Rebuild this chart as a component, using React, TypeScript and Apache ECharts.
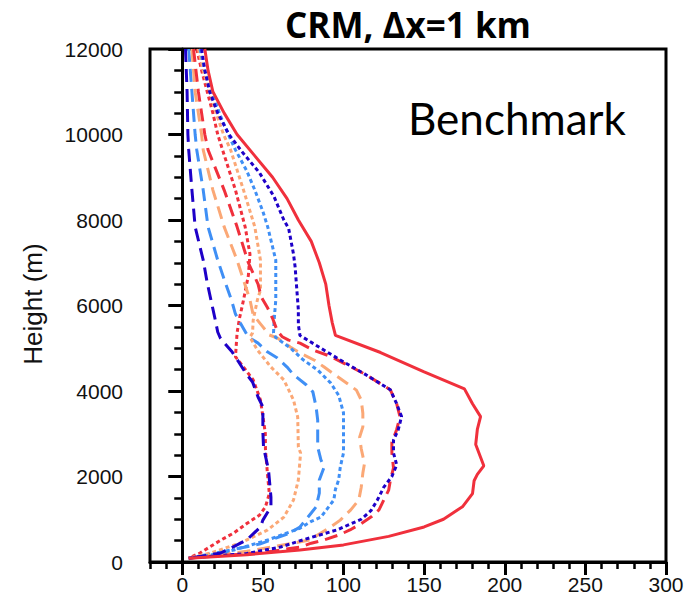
import React, { useEffect, useRef } from "react";
import * as echarts from "echarts";

// Profiles: [x value, height (m)]
const redSolid = [[14,12000],[16,11500],[19,11000],[26,10500],[34,10000],[45,9500],[56,9000],[65,8500],[72,8000],[80,7500],[85,7000],[89,6500],[91,6000],[93,5600],[95,5300],[123,4900],[150,4450],[175,4050],[180,3700],[185,3400],[183,3100],[182,2750],[185,2450],[187,2250],[183,2050],[181,1900],[180,1600],[174,1300],[162,1000],[150,820],[128,600],[100,400],[73,280],[40,170],[4,90]];
const blueDotted = [[12,12000],[14,11500],[17,11000],[22,10500],[29,10000],[37,9600],[48,9100],[57,8540],[63,8000],[66,7800],[69,7200],[70,6900],[71,6400],[72,5900],[72,5550],[73,5300],[96,4770],[113,4400],[129,4030],[133,3700],[136,3400],[134,3100],[131,2850],[131,2550],[133,2270],[130,2000],[125,1750],[121,1450],[117,1200],[111,1000],[96,750],[75,520],[61,350],[40,200],[4,90]];
const redDashed = [[7,12000],[10,11000],[14,10000],[16,9640],[26,8700],[34,7840],[41,7000],[44,6750],[47,6500],[49,6200],[53,5940],[56,5700],[59,5400],[62,5270],[66,5190],[73,5120],[81,4960],[92,4810],[113,4400],[129,4030],[133,3700],[135,3400],[133,3100],[130,2800],[130,2550],[131,2200],[129,1900],[128,1680],[125,1450],[122,1220],[117,1050],[111,900],[104,750],[97,630],[88,515],[80,440],[73,350],[50,220],[4,90]];
const orangeDashed = [[6,12000],[8,11000],[12,10000],[13,9640],[19,8700],[26,7840],[34,7060],[42,6130],[44,5780],[50,5500],[54,5310],[59,5240],[67,5030],[73,4890],[82,4720],[88,4560],[95,4370],[101,4210],[108,4020],[111,3790],[112,3480],[112,3160],[110,2920],[111,2650],[113,2300],[112,2080],[111,1750],[109.5,1450],[104.5,1220],[98,980],[92,820],[86,680],[79,515],[69,440],[40,250],[4,90]];
const lightBlueDotted = [[11,12000],[14,11500],[18.6,11000],[23,10500],[28.6,10000],[33,9640],[40,9150],[45,8700],[50,8200],[53,7840],[58,7060],[58,6530],[58,6130],[57,5660],[56.6,5360],[58,5250],[67,5010],[75,4730],[84,4490],[92,4190],[97,3900],[100,3490],[100,3000],[100,2550],[98,2220],[97,1920],[95,1700],[94,1450],[86,1050],[80,950],[73,790],[53,515],[32,281],[11,110],[4,90]];
const lightBlueDashed = [[4,12000],[6,11000],[8,10000],[9,9640],[13,8700],[16,7840],[22,7060],[27,6500],[30.5,6130],[33,5800],[36,5590],[41,5260],[47,5120],[53,4910],[59,4770],[65,4560],[69,4380],[77,4140],[81,3980],[83,3630],[84,3320],[84,3000],[84,2690],[86,2390],[88,2220],[85,1920],[85,1610],[83,1290],[80,1146],[73,820],[67,680],[48,420],[24,234],[4,90]];
const orangeDotted = [[10,12000],[13,11500],[17,11000],[21,10500],[25.6,10000],[30,9640],[38,8700],[45,7840],[48.5,7060],[48.5,6360],[46.6,6130],[44,5660],[43.6,5360],[42,5260],[46.6,4960],[55,4560],[63,4260],[69,3790],[71.6,3390],[72,2690],[73.4,2550],[72,1920],[69,1450],[63,1050],[53,750],[36,444],[17.5,210],[4,90]];
const redDotted = [[9,12000],[12,11500],[15.5,11000],[19,10500],[22,10000],[25,9640],[33,8700],[39,7840],[42,7200],[41,6700],[38,6130],[35.5,5700],[34,5360],[33,4800],[38,4560],[44,4260],[48.5,3790],[51.5,3020],[51.6,2620],[53,2000],[54,1600],[51.6,1290],[48,1100],[40,900],[32,680],[24,515],[11,210],[4,90]];
const blueDashed = [[2,12000],[3,11000],[3.5,10000],[4,9640],[6,8700],[8,7840],[13,7060],[15.5,6530],[18.7,5970],[20.5,5660],[22,5380],[23.6,5240],[25.5,5150],[31,4910],[35,4680],[39,4440],[43.6,4210],[47,3860],[50,3630],[50,3370],[50,3040],[50.4,2690],[53.5,2150],[55,1520],[55,1290],[50,980],[48.5,820],[40,515],[24,210],[4,90]];

const xMajorTicks = [0, 50, 100, 150, 200, 250, 300];
const xTitle = "CRM, Δx=1 km";
const yName = "Height (m)";
const annotation = "Benchmark";

const RED = "#f0303c";
const BLUE = "#1e00c8";
const LBLUE = "#3f8ff5";
const ORANGE = "#fba876";
const DASH = [13, 7];
const DOT = [4, 3];

export default function App() {
  const ref = useRef<HTMLDivElement>(null);
  useEffect(() => {
    if (!ref.current) return;
    const chart = echarts.init(ref.current, null, { renderer: "svg" });
    const mk = (data: number[][], color: string, type: any, z: number) => ({
      type: "line",
      data,
      showSymbol: false,
      symbol: "none",
      z,
      lineStyle: { color, width: 3, type, cap: "butt" },
    });
    const labelFont = { fontFamily: "Liberation Sans", fontSize: 21, color: "#111" };
    chart.setOption({
      animation: false,
      grid: { left: 150, right: 21, top: 49, bottom: 51, show: true, borderColor: "#000", borderWidth: 3, backgroundColor: "transparent" },
      xAxis: [
        {
          type: "value", min: -20, max: 300, interval: 10, position: "bottom",
          axisLine: { show: true, lineStyle: { color: "#000", width: 3 } },
          axisTick: { show: true, length: 7, lineStyle: { color: "#000", width: 2.5 } },
          axisLabel: { show: false },
          splitLine: { show: false },
        },
        {
          type: "value", min: -20, max: 300, position: "bottom", offset: 0,
          axisLine: { show: false },
          axisTick: { show: true, length: 13, customValues: xMajorTicks, lineStyle: { color: "#000", width: 3 } },
          axisLabel: { show: true, customValues: xMajorTicks, margin: 12, formatter: (v: number) => String(v), ...labelFont },
          splitLine: { show: false },
        },
      ],
      yAxis: {
        type: "value", min: 0, max: 12000, interval: 2000,
        axisLine: { show: true, lineStyle: { color: "#000", width: 3 } },
        axisTick: { show: true, length: 14, lineStyle: { color: "#000", width: 3 } },
        minorTick: { show: true, splitNumber: 4, length: 8, lineStyle: { color: "#000", width: 2.5 } },
        axisLabel: { margin: 27, formatter: (v: number) => String(v), ...labelFont },
        splitLine: { show: false },
        minorSplitLine: { show: false },
      },
      series: [
        mk(redDotted, RED, DOT, 2),
        mk(blueDashed, BLUE, DASH, 3),
        mk(lightBlueDashed, LBLUE, DASH, 2),
        mk(orangeDotted, ORANGE, DOT, 2),
        mk(orangeDashed, ORANGE, DASH, 2),
        mk(lightBlueDotted, LBLUE, DOT, 2),
        mk(redDashed, RED, DASH, 2),
        mk(blueDotted, BLUE, DOT, 3),
        mk(redSolid, RED, "solid", 4),
      ],
      graphic: [
        { type: "text", x: 408, y: 24, style: { text: xTitle, font: "bold 35px 'Open Sans'", fill: "#000", align: "center", verticalAlign: "middle" } },
        { type: "text", x: 408, y: 118, style: { text: annotation, font: "44px Lato", fill: "#000", align: "left", verticalAlign: "middle" } },
        { type: "text", x: 33, y: 304, rotation: Math.PI / 2, style: { text: yName, font: "26px 'Liberation Sans'", fill: "#111", align: "center", verticalAlign: "middle" } },
      ],
    });
    return () => chart.dispose();
  }, []);
  return <div ref={ref} style={{ width: 687, height: 613, position: "absolute", left: 0, top: 0 }} />;
}
